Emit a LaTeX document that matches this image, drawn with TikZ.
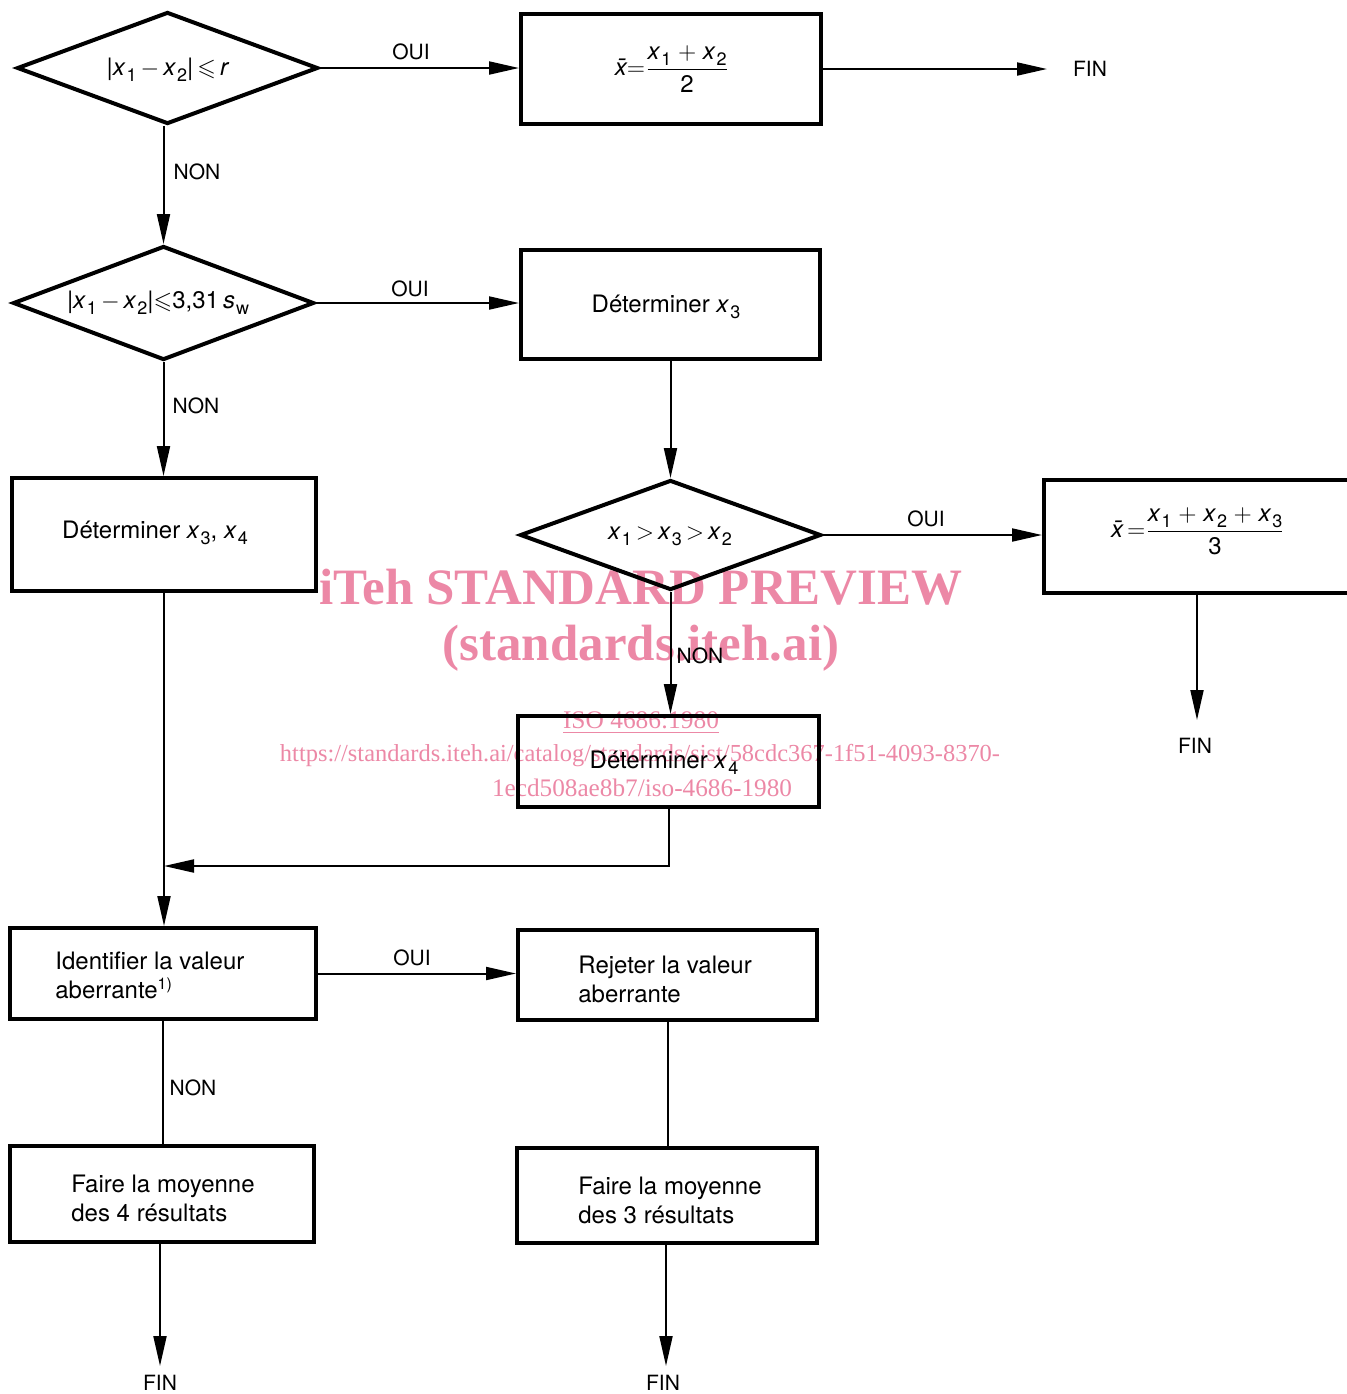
\documentclass[tikz,border=0pt]{standalone}
\usepackage{amsmath,amssymb}
\usepackage{fontspec}
\setmainfont{TeX Gyre Heros}
\newfontfamily\wmfont{Liberation Serif}
\usetikzlibrary{arrows.meta,shapes.geometric}
\definecolor{wmpink}{RGB}{236,136,166}
\newcommand\xs[2][x]{\textit{#1}\kern0.04em\raisebox{-0.45ex}{\fontsize{9}{9}\selectfont #2}}
\newcommand\xbar{\textit{\={x}}}
\begin{document}
\begin{tikzpicture}[x=0.5pt,y=-0.5pt,
  box/.style={draw,rectangle,line width=2pt,inner sep=0pt},
  dia/.style={draw,diamond,line width=2pt,inner sep=0pt},
  txt/.style={font=\fontsize{12}{14.5}\selectfont,inner sep=0pt},
  lbl/.style={font=\fontsize{10.5}{12}\selectfont,inner sep=0pt},
  conn/.style={line width=1pt},
  arr/.style={conn,-{Triangle[length=15pt,width=6.5pt]}},
  wmbig/.style={text=wmpink,font=\wmfont\bfseries\fontsize{25.5}{28}\selectfont,inner sep=0pt},
  wmsmall/.style={text=wmpink,font=\wmfont\fontsize{12.7}{14}\selectfont,inner sep=0pt}
]
\useasboundingbox (0,0) rectangle (1347,1394);
\clip (0,0) rectangle (1347,1394);

% watermark (behind)
\node[wmbig] (wm1) at (641,587) {iTeh STANDARD PREVIEW};
\node[wmbig] (wm2) at (641,648) {(standards.iteh.ai)};
\node[wmsmall] (wm3) at (641,723) {\underline{ISO 4686:1980}};
\node[wmsmall] (wm4) at (640,756) {\resizebox{360pt}{!}{https://standards.iteh.ai/catalog/standards/sist/58cdc367-1f51-4093-8370-}};
\node[wmsmall] (wm5) at (642,788) {\resizebox{150pt}{!}{1ecd508ae8b7/iso-4686-1980}};

% decisions
\node[dia,minimum width=150.5pt,minimum height=56pt] (d1) at (167.5,68) {};
\node[txt] (d1t) at (168,70) {\textit{|}\xs{1}\,$-$\,\xs{2}\textit{|}\,$\leqslant$\,\textit{r}};
\node[dia,minimum width=150.5pt,minimum height=57pt] (d2) at (163.5,303) {};
\node[txt] (d2t) at (158,303) {\textit{|}\xs{1}\,$-$\,\xs{2}\textit{|}$\leqslant$3,31\,\xs[s]{w}};
\node[dia,minimum width=150.5pt,minimum height=55pt] (d3) at (670.5,535) {};
\node[txt] (d3t) at (670,536) {\xs{1}\,$>$\,\xs{3}\,$>$\,\xs{2}};

% boxes
\node[box,minimum width=150pt,minimum height=55pt] (b1) at (671,69) {};
\node[txt] (b1t) at (672,69) {\xbar$=$$\displaystyle\frac{\hbox{\xs{1} $+$ \xs{2}}}{\hbox{2}}$};
\node[box,minimum width=149.5pt,minimum height=54.5pt] (b2) at (670.5,304.5) {};
\node[txt] (b2t) at (666,307) {Déterminer \xs{3}};
\node[box,minimum width=160pt,minimum height=56.5pt] (b3) at (1204,536.5) {};
\node[txt] (b3t) at (1198,531) {\xbar\,$=$$\displaystyle\frac{\hbox{\xs{1} $+$ \xs{2} $+$ \xs{3}}}{\hbox{3}}$};
\node[box,minimum width=150.5pt,minimum height=45.5pt] (b4) at (668.5,761.5) {};
\node[txt] (b4t) at (664,763) {Déterminer \xs{4}};
\node[box,minimum width=152pt,minimum height=56.5pt] (b5) at (164,534.5) {};
\node[txt] (b5t) at (155,533) {Déterminer \xs{3}, \xs{4}};
\node[box,minimum width=153pt,minimum height=45.5pt] (b6) at (163,973.5) {};
\node[txt,anchor=west,align=left] (b6t) at (55,975) {Identifier la valeur\\aberrante\textsuperscript{1)}};
\node[box,minimum width=149.5pt,minimum height=45pt] (b7) at (667.5,975) {};
\node[txt,anchor=west,align=left] (b7t) at (578,979) {Rejeter la valeur\\aberrante};
\node[box,minimum width=152pt,minimum height=48pt] (b8) at (162,1194) {};
\node[txt,anchor=west,align=left] (b8t) at (71,1198) {Faire la moyenne\\des 4 résultats};
\node[box,minimum width=150pt,minimum height=47.5pt] (b9) at (667,1195.5) {};
\node[txt,anchor=west,align=left] (b9t) at (578,1200) {Faire la moyenne\\des 3 résultats};

% FIN labels and arrow ends
\node[lbl] (fin1) at (1090,69) {FIN};
\node[lbl] (fin2) at (1195,746) {FIN};
\node[lbl] (fin3) at (160,1383) {FIN};
\node[lbl] (fin4) at (663,1383) {FIN};
\coordinate (f1a) at (1047,69);
\coordinate (f2a) at (1197,720);
\coordinate (f3a) at (160,1366);
\coordinate (f4a) at (666,1366);
\coordinate (j) at (164,866);

% connectors
\draw[arr] (d1.east) -- (d1.east -| b1.west);
\draw[arr] (b1.east) -- (f1a);
\draw[arr] (d2.north |- d1.south) -- (d2.north);
\draw[arr] (d2.east) -- (d2.east -| b2.west);
\draw[arr] (d2.south) -- (d2.south |- b5.north);
\draw[arr] (b2.south) -- (b2.south |- d3.north);
\draw[arr] (d3.east) -- (d3.east -| b3.west);
\draw[arr] (f2a |- b3.south) -- (f2a);
\draw[arr] (d3.south) -- (d3.south |- b4.north);
\draw[arr] (b4.south) |- (j);
\draw[arr] (b5.south) -- (b5.south |- b6.north);
\draw[arr] (b6.east) -- (b6.east -| b7.west);
\draw[conn] (b6.south) -- (b6.south |- b8.north);
\draw[conn] (b7.south) -- (b7.south |- b9.north);
\draw[arr] (f3a |- b8.south) -- (f3a);
\draw[arr] (f4a |- b9.south) -- (f4a);

% labels
\node[lbl] (l1) at (411,52) {OUI};
\node[lbl] (l2) at (410,289) {OUI};
\node[lbl] (l3) at (926,519) {OUI};
\node[lbl] (l4) at (412,958) {OUI};
\node[lbl] (n1) at (197,172) {NON};
\node[lbl] (n2) at (196,406) {NON};
\node[lbl] (n3) at (700,656) {NON};
\node[lbl] (n4) at (193,1088) {NON};
\end{tikzpicture}
\end{document}
